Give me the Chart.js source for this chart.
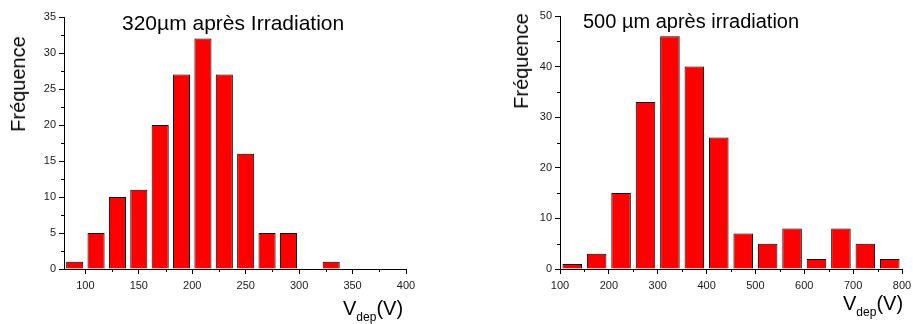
<!DOCTYPE html>
<html>
<head>
<meta charset="utf-8">
<script src="https://cdn.jsdelivr.net/npm/chart.js@4.4.0/dist/chart.umd.min.js"></script>
<style>
  body { margin: 0; background: #fff; }
  #wrap { position: relative; width: 913px; height: 324px; overflow: hidden;
          font-family: "Liberation Sans", Arial, sans-serif; color: #000; }
  canvas { position: absolute; top: 0; }
  .lbl { position: absolute; white-space: nowrap; line-height: 1; }
  .ylab { font-size: 20px; transform: translate(-50%, -50%) rotate(-90deg); }
  .xlab { font-size: 20px; }
  .xlab sub { font-size: 12px; vertical-align: -6px; line-height: 0; }
</style>
</head>
<body>
<div id="wrap">
  <canvas id="thin" width="420" height="324" style="left:0px"></canvas>
  <canvas id="thick" width="423" height="324" style="left:490px"></canvas>

  <div class="lbl" style="left:122px; top:12px; font-size:21px">320µm après Irradiation</div>
  <div class="lbl ylab" style="left:18px; top:84px">Fréquence</div>
  <div class="lbl xlab" style="left:343px; top:298px">V<sub>dep</sub>(V)</div>

  <div class="lbl" style="left:583px; top:11px; font-size:20px">500 µm après irradiation</div>
  <div class="lbl ylab" style="left:521px; top:61px">Fréquence</div>
  <div class="lbl xlab" style="left:843px; top:293px">V<sub>dep</sub>(V)</div>
</div>

<script>
// 320 µm : centre des classes (V) et nombre de capteurs
var binsThin   = [90, 110, 130, 150, 170, 190, 210, 230, 250, 270, 290, 330];
var countsThin = [1, 5, 10, 11, 20, 27, 32, 27, 16, 5, 5, 1];
var xTicksThin = [100, 150, 200, 250, 300, 350, 400];
var xMinorThin = [125, 175, 225, 275, 325, 375];
var yTicksThin = [0, 5, 10, 15, 20, 25, 30, 35];
var yMinorThin = [2.5, 7.5, 12.5, 17.5, 22.5, 27.5, 32.5];

// 500 µm
var binsThick   = [125, 175, 225, 275, 325, 375, 425, 475, 525, 575, 625, 675, 725, 775];
var countsThick = [1, 3, 15, 33, 46, 40, 26, 7, 5, 8, 2, 8, 5, 2];
var xTicksThick = [100, 200, 300, 400, 500, 600, 700, 800];
var xMinorThick = [150, 250, 350, 450, 550, 650, 750];
var yTicksThick = [0, 10, 20, 30, 40, 50];
var yMinorThick = [5, 15, 25, 35, 45];

// petites graduations secondaires, placées avec les échelles de Chart.js
var minorTicks = {
  id: 'minorTicks',
  afterDraw: function(chart, args, opts) {
    var ctx = chart.ctx, a = chart.chartArea;
    var xs = chart.scales.x, ys = chart.scales.y;
    ctx.save();
    ctx.strokeStyle = '#000';
    ctx.lineWidth = 1;
    ctx.beginPath();
    opts.x.forEach(function(v) {
      var px = Math.round(xs.getPixelForValue(v)) + 0.5;
      ctx.moveTo(px, a.bottom);
      ctx.lineTo(px, a.bottom + 3);
    });
    opts.y.forEach(function(v) {
      var py = Math.round(ys.getPixelForValue(v)) + 0.5;
      ctx.moveTo(a.left - 3, py);
      ctx.lineTo(a.left, py);
    });
    ctx.stroke();
    ctx.restore();
  }
};

function histo(id, bins, counts, xMin, xMax, xTicks, xMinor, yMax, yTicks, yMinor, box) {
  var tickFont = { family: '"Liberation Sans", Arial, sans-serif', size: 11 };
  return new Chart(document.getElementById(id), {
    type: 'bar',
    data: {
      datasets: [{
        data: bins.map(function(b, i) { return { x: b, y: counts[i] }; }),
        backgroundColor: '#ff0000',
        borderColor: '#000',
        borderWidth: 1,
        barPercentage: 0.8,
        categoryPercentage: 1.0
      }]
    },
    options: {
      responsive: false,
      animation: false,
      layout: { padding: { top: box.top, right: box.right, left: 0, bottom: 0 } },
      plugins: {
        legend: { display: false },
        tooltip: { enabled: false },
        minorTicks: { x: xMinor, y: yMinor }
      },
      scales: {
        x: {
          type: 'linear',
          min: xMin, max: xMax,
          offset: false,
          grid: { offset: false, drawOnChartArea: false, drawTicks: true, tickLength: 5, tickColor: '#000' },
          border: { display: true, color: '#000', width: 1 },
          ticks: { font: tickFont, color: '#1a1a1a', padding: 5, maxRotation: 0 },
          afterBuildTicks: function(s) { s.ticks = xTicks.map(function(v) { return { value: v }; }); },
          afterFit: function(s) {
            s.height = box.xh;
            s.paddingLeft = s.paddingRight = s.paddingTop = s.paddingBottom = 0;
          }
        },
        y: {
          min: 0, max: yMax,
          grid: { drawOnChartArea: false, drawTicks: true, tickLength: 5, tickColor: '#000' },
          border: { display: true, color: '#000', width: 1 },
          ticks: { font: tickFont, color: '#1a1a1a', padding: 3 },
          afterBuildTicks: function(s) { s.ticks = yTicks.map(function(v) { return { value: v }; }); },
          afterFit: function(s) {
            s.width = box.yw;
            s.paddingLeft = s.paddingRight = s.paddingTop = s.paddingBottom = 0;
          }
        }
      }
    },
    plugins: [minorTicks]
  });
}

histo('thin', binsThin, countsThin, 80, 400, xTicksThin, xMinorThin, 35, yTicksThin, yMinorThin,
      { top: 17, right: 14, yw: 64, xh: 55 });
histo('thick', binsThick, countsThick, 100, 800, xTicksThick, xMinorThick, 50, yTicksThick, yMinorThick,
      { top: 16, right: 11, yw: 70, xh: 55 });
</script>
</body>
</html>
